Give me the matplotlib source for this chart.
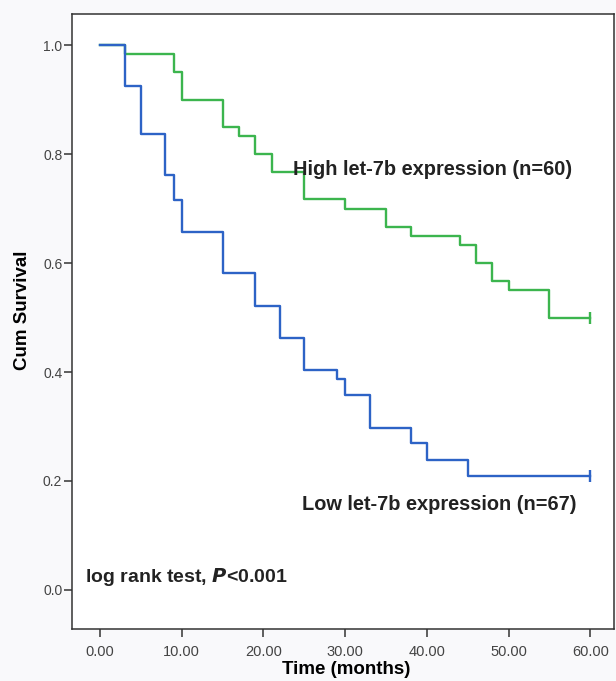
import matplotlib
matplotlib.use("Agg")
import matplotlib.pyplot as plt

# Data
high_times = [0, 3, 9, 10, 15, 17, 19, 21, 25, 30, 35, 38, 44, 46, 48, 50, 55, 60]
high_surv = [1.0, 0.983, 0.95, 0.9, 0.85, 0.833, 0.8, 0.767, 0.717, 0.7, 0.667, 0.65,
             0.633, 0.6, 0.567, 0.55, 0.5, 0.5]
low_times = [0, 3, 5, 8, 9, 10, 15, 19, 22, 25, 29, 30, 33, 38, 40, 45, 60]
low_surv = [1.0, 0.925, 0.836, 0.761, 0.716, 0.657, 0.582, 0.522, 0.463, 0.403, 0.388,
            0.358, 0.298, 0.269, 0.239, 0.209, 0.209]
x_ticks = [0, 10, 20, 30, 40, 50, 60]
x_ticklabels = ["0.00", "10.00", "20.00", "30.00", "40.00", "50.00", "60.00"]
y_ticks = [0.0, 0.2, 0.4, 0.6, 0.8, 1.0]
y_ticklabels = ["0.0", "0.2", "0.4", "0.6", "0.8", "1.0"]
high_label = "High let-7b expression (n=60)"
low_label = "Low let-7b expression (n=67)"

plt.rcParams['font.family'] = ['Liberation Sans', 'DejaVu Sans']

fig = plt.figure(figsize=(6.16, 6.81), dpi=100, facecolor='#f9f9fb')
ax = fig.add_axes([0.1169, 0.0764, 0.8799, 0.9030])
ax.set_facecolor('white')

green = '#3cb54e'
blue = '#2d63c6'

ax.step(high_times, high_surv, where='post', color=green, lw=1.7)
ax.step(low_times, low_surv, where='post', color=blue, lw=1.7)
ax.plot([high_times[-1]], [high_surv[-1]], marker='|', color=green, ms=9, mew=1.7)
ax.plot([low_times[-1]], [low_surv[-1]], marker='|', color=blue, ms=9, mew=1.7)

ax.set_xlim(-3.43, 62.9)
ax.set_ylim(-0.0716, 1.057)

ax.set_xticks(x_ticks)
ax.set_xticklabels(x_ticklabels)
ax.set_yticks(y_ticks)
ax.set_yticklabels(y_ticklabels)
ax.tick_params(axis='both', direction='out', length=6, width=1.1, color='#333333',
               labelsize=10, labelcolor='#444444')
ax.tick_params(axis='x', pad=5.5, labelsize=10.5)
ax.tick_params(axis='y', pad=1)

for s in ax.spines.values():
    s.set_color('#333333')
    s.set_linewidth(1.1)

ax.set_xlabel("Time (months)", fontsize=13.5, fontweight='bold')
ax.set_ylabel("Cum Survival", fontsize=13.5, fontweight='bold')
ax.xaxis.set_label_coords(0.5055, -0.052)
ax.yaxis.set_label_coords(-0.076, 0.519)

ax.text(23.6, 0.771, high_label, fontsize=14.4, fontweight='bold', va='center', ha='left',
        color='#222222')
ax.text(24.7, 0.156, low_label, fontsize=14.4, fontweight='bold', va='center', ha='left',
        color='#222222')
ax.text(-1.84, 0.024, "log rank test, $\\boldsymbol{P}$<0.001", fontsize=14, fontweight='bold',
        va='center', ha='left', color='#222222')

fig.savefig("out.png", dpi=100, facecolor=fig.get_facecolor())
